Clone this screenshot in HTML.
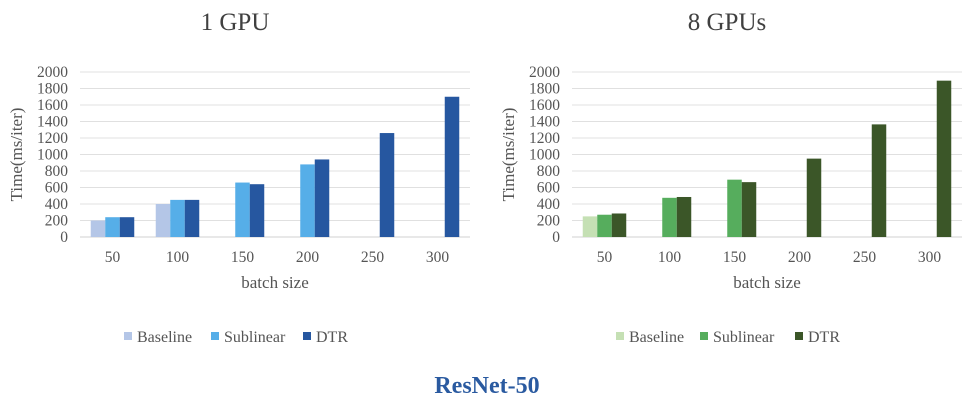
<!DOCTYPE html>
<html><head><meta charset="utf-8"><style>
html,body{margin:0;padding:0;background:#fff;}
svg, svg text{font-family:"Liberation Serif","Times New Roman",serif;}
</style></head><body>
<svg id="c" width="975" height="408" viewBox="0 0 975 408" font-family="Liberation Serif, serif">
<text x="487" y="393" text-anchor="middle" font-size="24" font-weight="bold" fill="#2a5aa0">ResNet-50</text>
</svg>
<script>
const categories = ["50","100","150","200","250","300"];
const yTicks = [0,200,400,600,800,1000,1200,1400,1600,1800,2000];
const seriesNames = ["Baseline","Sublinear","DTR"];
const gpu1Baseline = [200,400,0,0,0,0];
const gpu1Sublinear = [240,450,660,880,0,0];
const gpu1DTR = [240,450,640,940,1260,1700];
const gpu8Baseline = [250,0,0,0,0,0];
const gpu8Sublinear = [270,475,695,0,0,0];
const gpu8DTR = [285,485,665,950,1365,1895];

const NS="http://www.w3.org/2000/svg";
const svg=document.getElementById('c');
function mk(tag,attrs,parent){const e=document.createElementNS(NS,tag);for(const k in attrs)e.setAttribute(k,attrs[k]);(parent||svg).appendChild(e);return e;}

function chart(opts){
  const g=mk('g',{});
  
  
  const x0=opts.x0,x1=opts.x1,yTop=72,yBot=237,yMax=2000;
  const y=v=>yBot-(v/yMax)*(yBot-yTop);
  const cw=(x1-x0)/categories.length, bw=14.5;
  const t=mk('text',{x:opts.titleX,y:30,'text-anchor':'middle','font-size':25,fill:'#404040'},g);
  t.textContent=opts.title;
  
  
  yTicks.forEach(v=>{
    const l=mk('line',{x1:x0,x2:x1,y1:y(v),y2:y(v),stroke:v===0?'#d0d0d0':'#e0e0e0','stroke-width':1},g);
    
    
    const tx=mk('text',{x:x0-12,y:y(v)+5,'text-anchor':'end','font-size':15.5,fill:'#555'},g);
    tx.textContent=v;
    
    
  });
  const at=mk('text',{x:0,y:0,'text-anchor':'middle','font-size':17,fill:'#555',transform:`translate(${x0-58},${(yTop+yBot)/2}) rotate(-90)`},g);
  at.textContent='Time(ms/iter)';
  
  
  categories.forEach((c,i)=>{
    const cx=x0+cw*(i+0.5);
    const tx=mk('text',{x:cx,y:262,'text-anchor':'middle','font-size':15.5,fill:'#555'},g);
    tx.textContent=c;
    
    
    opts.series.forEach((s,j)=>{
      const v=s[i]; if(!v) return;
      const bx=cx-1.5*bw+j*bw;
      const r=mk('rect',{x:bx,y:y(v),width:bw,height:yBot-y(v),fill:opts.colors[j]},g);
      
      
    });
  });
  const xt=mk('text',{x:(x0+x1)/2,y:288,'text-anchor':'middle','font-size':17,fill:'#555'},g);
  xt.textContent='batch size';
  
  
  seriesNames.forEach((n,j)=>{
    const lx=opts.legendX[j];
    const sq=mk('rect',{x:lx,y:332,width:8,height:8,fill:opts.colors[j]},g);
    
    
    const lt=mk('text',{x:lx+13,y:342,'font-size':16,fill:'#555'},g);
    lt.textContent=n;
    
    
  });
}
chart({id:'chart-1gpu',title:'1 GPU',titleX:235,x0:80,x1:470,series:[gpu1Baseline,gpu1Sublinear,gpu1DTR],colors:['#b4c6e7','#56aee8','#2657a0'],legendX:[124,211,303]});
chart({id:'chart-8gpus',title:'8 GPUs',titleX:727,x0:572,x1:962,series:[gpu8Baseline,gpu8Sublinear,gpu8DTR],colors:['#c5e0b4','#56ad5d','#3b5628'],legendX:[616,700,795]});
</script>
</body></html>
